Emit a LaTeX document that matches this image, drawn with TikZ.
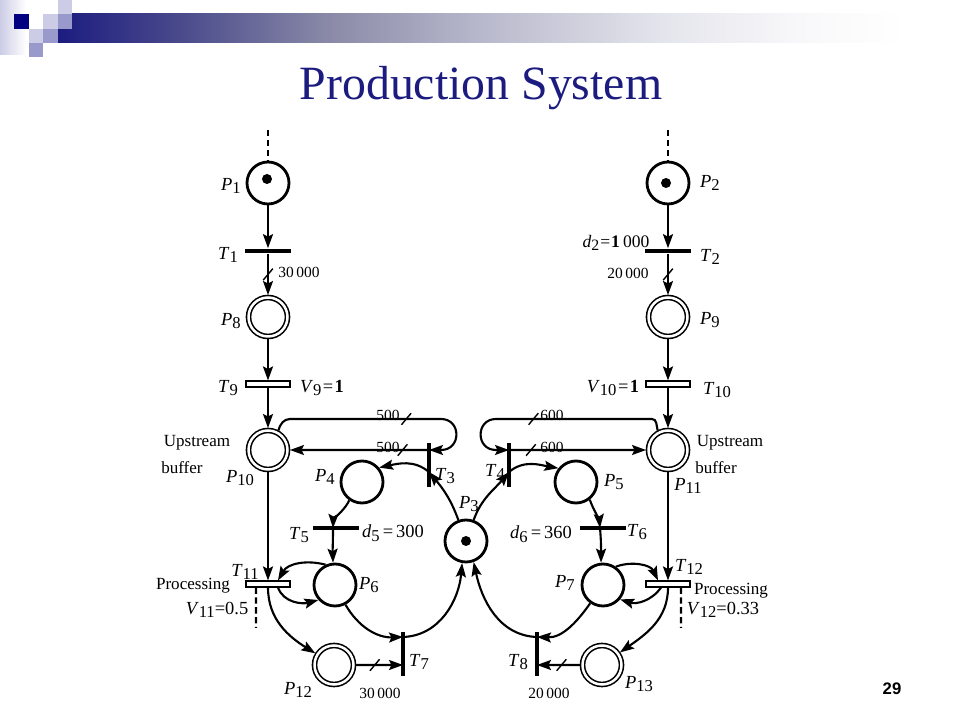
\documentclass[tikz,border=0pt]{standalone}
\usepackage{fontspec}
\setmainfont{Liberation Serif}
\newfontfamily\pagefont{Liberation Sans}
\usetikzlibrary{arrows.meta}
\newcommand{\petrilab}[2]{\textit{#1}\raisebox{-.4ex}{\scalebox{.9}{#2}}}
\definecolor{deckblue}{HTML}{1C1C80}
\definecolor{decknavy}{HTML}{000080}
\definecolor{decklight}{HTML}{CCCCE6}
\definecolor{deckmid}{HTML}{9999CC}
\definecolor{fadea}{HTML}{4A4A8C}
\definecolor{fadeb}{HTML}{8A8AA8}
\definecolor{fadec}{HTML}{B8B8CC}
\definecolor{faded}{HTML}{E4E4EC}
\definecolor{fadee}{HTML}{F8F8FA}
\pgfdeclarehorizontalshading{deckfade}{100bp}{color(0bp)=(deckblue); color(25bp)=(deckblue); color(31.8bp)=(fadea); color(40bp)=(fadeb); color(48.4bp)=(fadec); color(58.4bp)=(faded); color(66bp)=(fadee); color(72bp)=(white); color(100bp)=(white)}
\tikzset{
  place/.style={circle,draw,line width=1.6pt,minimum size=.84cm,inner sep=0},
  store/.style={circle,draw,line width=.9pt,double,double distance=.05cm,minimum size=.78cm,inner sep=0,outer sep=.05cm},
  token/.style={circle,fill,minimum size=.2cm,inner sep=0},
  hbar/.style={rectangle,fill,minimum width=.92cm,minimum height=.07cm,inner sep=0},
  vbar/.style={rectangle,fill,minimum width=.07cm,minimum height=.9cm,inner sep=0},
  openbar/.style={rectangle,draw,fill=white,line width=.9pt,minimum width=.88cm,minimum height=.11cm,inner sep=0},
  slashmark/.style={rectangle,draw,line width=.8pt,minimum width=0,minimum height=.3cm,inner sep=0,rotate=-40},
  caption/.style={font=\fontsize{9.7}{11}\selectfont,inner sep=0},
  symbol/.style={font=\fontsize{10.5}{12}\selectfont,inner sep=0},
  amount/.style={font=\fontsize{8.8}{10}\selectfont,inner sep=0}
}
\begin{document}
\begin{tikzpicture}[x=.02cm,y=.02cm,line width=1.2pt,>={Stealth[length=.28cm,width=.2cm,inset=.05cm]}]
  \useasboundingbox (0,0) rectangle (960,720);
  % slide header
  \shade[shading=deckfade] (58,677) rectangle (960,706);
  \shade[left color=decklight,right color=white] (0,665) rectangle (26,720);
  \fill[white] (29,677) rectangle (58,706);
  \fill[decknavy] (14,691) rectangle (29,706);
  \fill[decklight] (43,691) rectangle (58,706);
  \fill[deckmid] (58,691) rectangle (72,706);
  \fill[decklight] (58,706) rectangle (72,720);
  \fill[decklight] (29,677) rectangle (43,691);
  \fill[deckmid] (43,677) rectangle (58,691);
  \fill[deckmid] (29,663) rectangle (43,677);
  \node[text=deckblue,font=\fontsize{27.2}{30}\selectfont,inner sep=0] (title) at (481,632) {Production System};
  \node[font=\pagefont\bfseries\fontsize{9.5}{11}\selectfont,inner sep=0] (pageno) at (892,31) {29};
  % places and transitions
  \draw
    (268,537) node[place] (P1){}
    (668,537) node[place] (P2){}
    (466,179) node[place] (P3){}
    (362,238) node[place] (P4){}
    (576,238) node[place] (P5){}
    (335,135) node[place] (P6){}
    (603,135) node[place] (P7){}
    (268,403) node[store] (P8){}
    (668,403) node[store] (P9){}
    (268,270) node[store] (P10){}
    (668,270) node[store] (P11){}
    (334,55) node[store] (P12){}
    (602,55) node[store] (P13){};
  \draw
    (268,469) node[hbar] (T1){}
    (668,469) node[hbar] (T2){}
    (429,255) node[vbar] (T3){}
    (509,255) node[vbar] (T4){}
    (336,192) node[hbar] (T5){}
    (603,192) node[hbar] (T6){}
    (403,66) node[vbar] (T7){}
    (537,66) node[vbar] (T8){}
    (268,336) node[openbar] (T9){}
    (668,336) node[openbar] (T10){}
    (268,136) node[openbar] (T11){}
    (668,136) node[openbar] (T12){};
  \node[token] (m1) at (267,541) {};
  \node[token] (m2) at (666,537) {};
  \node[token] (m3) at (466,179) {};
  \coordinate (d1) at (268,590);
  \coordinate (d2) at (668,590);
  \coordinate (d11) at (256,92);
  \coordinate (d12) at (681,92);
  \coordinate (L1) at (290,301);
  \coordinate (L2) at (441,301);
  \coordinate (L3) at (441,270);
  \coordinate (R1) at (652,301);
  \coordinate (R2) at (496,301);
  \coordinate (R3) at (496,270);
  % dashed inputs and outputs
  \begin{scope}[dash pattern=on 3.6pt off 2pt]
    \draw (d1) to (P1);
    \draw (d2) to (P2);
    \draw ([xshift=-.24cm]T11.south) to (d11);
    \draw ([xshift=.26cm]T12.south) to (d12);
  \end{scope}
  % left side
  \begin{scope}[->]
    \draw (P1) to (T1);
    \draw (T1) to node[slashmark] (s1){} (P8);
    \draw (P8) to (T9);
    \draw (T9) to (P10);
    \draw (P10) to (T11);
    \draw (T11) to[out=-90,in=148] (P12);
    \draw (P10.62) to[out=75,in=180] (L1) -- node[slashmark,pos=.77] (s3a){} (L2) to[out=0,in=0,looseness=1.7] (L3) -- ([yshift=.3cm]T3.center);
    \draw ([yshift=.3cm]T3.center) to node[slashmark,pos=.19] (s3b){} (P10);
    \draw (P3.110) to[out=110,in=-50] ([yshift=-.14cm]T3.center);
    \draw ([yshift=-.14cm]T3.center) to[out=140,in=12] (P4.40);
    \draw (P4.-125) to[out=-110,in=88,looseness=.6] ([xshift=-.06cm]T5.center);
    \draw ([xshift=-.06cm]T5.center) to[out=-90,in=92] (P6.95);
    \draw (P6.115) to[out=165,in=60] ([xshift=.2cm]T11.north);
    \draw ([xshift=.2cm]T11.south) to[out=-70,in=195] (P6.222);
    \draw (P6.-62) to[out=-60,in=182] ([yshift=.34cm]T7.center);
    \draw ([yshift=.34cm]T7.center) to[out=2,in=-95] (P3.-100);
    \draw (P12) to node[slashmark,pos=.4] (s7){} ([yshift=-.22cm]T7.center);
  \end{scope}
  % right side
  \begin{scope}[->]
    \draw (P2) to (T2);
    \draw (T2) to node[slashmark] (s2){} (P9);
    \draw (P9) to (T10);
    \draw (T10) to (P11);
    \draw (P11) to (T12);
    \draw (T12) to[out=-90,in=35] (P13);
    \draw (P11.118) to[out=105,in=0] (R1) -- node[slashmark,pos=.76] (s4a){} (R2) to[out=180,in=180,looseness=1.7] (R3) -- ([yshift=.3cm]T4.center);
    \draw ([yshift=.3cm]T4.center) to node[slashmark,pos=.16] (s4b){} (P11);
    \draw (P3.70) to[out=70,in=-130] ([yshift=-.14cm]T4.center);
    \draw ([yshift=-.14cm]T4.center) to[out=40,in=170] (P5.142);
    \draw (P5.-52) to[out=-72,in=95,looseness=.6] ([xshift=-.06cm]T6.center);
    \draw ([xshift=-.06cm]T6.center) to[out=-85,in=90] (P7.95);
    \draw (P7.55) to[out=20,in=115] ([xshift=-.2cm]T12.north);
    \draw ([xshift=-.14cm]T12.south) to[out=-125,in=-18] (P7.-40);
    \draw (P7.-125) to[out=-125,in=-2] ([yshift=.34cm]T8.center);
    \draw ([yshift=.34cm]T8.center) to[out=178,in=-78] (P3.-70);
    \draw (P13) to node[slashmark,pos=.43] (s8){} ([yshift=-.22cm]T8.center);
  \end{scope}
  % labels
  \node[symbol] (lP1) at (231,534) {\petrilab{P}{1}};
  \node[symbol] (lT1) at (228,465) {\petrilab{T}{1}};
  \node[amount] (n1) at (299,448) {30\,000};
  \node[symbol] (lP8) at (231,399) {\petrilab{P}{8}};
  \node[symbol] (lT9) at (228,332) {\petrilab{T}{9}};
  \node[symbol] (lV9) at (322,332) {\petrilab{V}{9}\kern.08em=\kern.08em\textbf{1}};
  \node[caption] (up1) at (197,277) {Upstream};
  \node[caption] (bf1) at (182,252) {buffer};
  \node[symbol] (lP10) at (240,242) {\petrilab{P}{10}};
  \node[amount] (n3a) at (388,305) {500};
  \node[amount] (n3b) at (388,273) {500};
  \node[symbol] (lP4) at (325,243) {\petrilab{P}{4}};
  \node[symbol] (lT3) at (445,244) {\petrilab{T}{3}};
  \node[symbol] (lP3) at (469,216) {\petrilab{P}{3}};
  \node[symbol] (lT5) at (299,185) {\petrilab{T}{5}};
  \node[symbol] (ld5) at (393,187) {\petrilab{d}{5}\,=\,300};
  \node[symbol] (lT11) at (245,148) {\petrilab{T}{11}};
  \node[caption] (pr1) at (193,134) {Processing};
  \node[symbol] (lV11) at (217,110) {\petrilab{V}{11}=0.5};
  \node[symbol] (lP6) at (369,135) {\petrilab{P}{6}};
  \node[symbol] (lT7) at (419,58) {\petrilab{T}{7}};
  \node[symbol] (lP12) at (298,30) {\petrilab{P}{12}};
  \node[amount] (n7) at (380,27) {30\,000};
  \node[symbol] (lP2) at (710,537) {\petrilab{P}{2}};
  \node[symbol] (lT2) at (710,463) {\petrilab{T}{2}};
  \node[symbol] (ld2) at (616,477) {\fontsize{10}{12}\selectfont\petrilab{d}{2}\kern.05em=\kern.05em\textbf{1}\kern.18em000};
  \node[amount] (n2) at (628,447) {20\,000};
  \node[symbol] (lP9) at (710,400) {\petrilab{P}{9}};
  \node[symbol] (lV10) at (613,332) {\petrilab{V}{10}\kern.08em=\kern.08em\textbf{1}};
  \node[symbol] (lT10) at (717,330) {\petrilab{T}{10}};
  \node[caption] (up2) at (730,277) {Upstream};
  \node[caption] (bf2) at (716,252) {buffer};
  \node[symbol] (lP11) at (688,234) {\petrilab{P}{11}};
  \node[amount] (n4a) at (552,305) {600};
  \node[amount] (n4b) at (552,273) {600};
  \node[symbol] (lP5) at (614,238) {\petrilab{P}{5}};
  \node[symbol] (lT4) at (495,248) {\petrilab{T}{4}};
  \node[symbol] (lT6) at (637,188) {\petrilab{T}{6}};
  \node[symbol] (ld6) at (541,186) {\petrilab{d}{6}\,=\,360};
  \node[symbol] (lT12) at (689,153) {\petrilab{T}{12}};
  \node[caption] (pr2) at (731,129) {Processing};
  \node[symbol] (lV12) at (723,110) {\petrilab{V}{12}=0.33};
  \node[symbol] (lP7) at (565,137) {\petrilab{P}{7}};
  \node[symbol] (lT8) at (518,58) {\petrilab{T}{8}};
  \node[symbol] (lP13) at (639,36) {\petrilab{P}{13}};
  \node[amount] (n8) at (549,27) {20\,000};
\end{tikzpicture}
\end{document}
